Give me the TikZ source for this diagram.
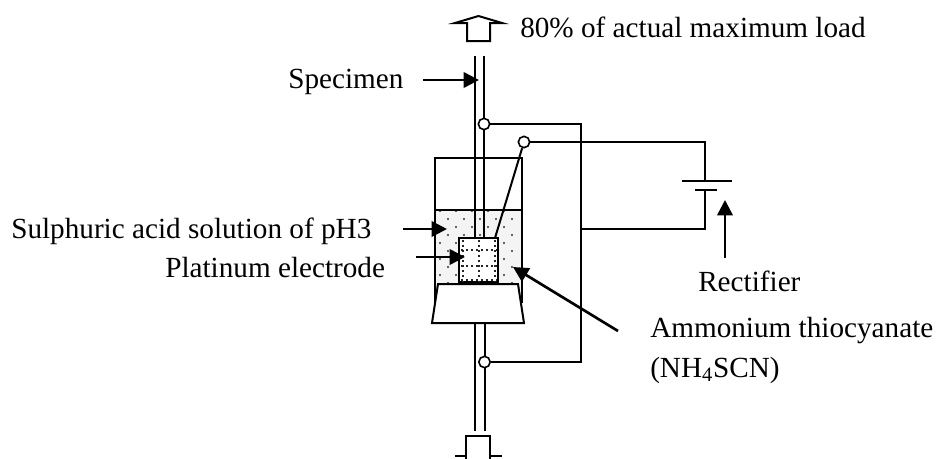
\documentclass[tikz,border=0pt]{standalone}
\usepackage{fontspec}
\setmainfont{Liberation Serif}
\usetikzlibrary{arrows.meta}
\tikzset{
  px/.style={x=0.75pt,y=-0.75pt},
  wire/.style={line width=1.5pt,black},
  pointer/.style={line width=2pt,-{Triangle[length=11.5pt,width=11.5pt]}},
  term/.style={circle,draw=black,fill=white,line width=1.2pt,inner sep=0pt,minimum size=8.5pt},
  lbl/.style={inner sep=0pt,anchor=base west,font=\fontsize{21.9pt}{26pt}\selectfont,text=black},
  pt/.style={inner sep=0pt,minimum size=0pt},
  hollow/.style={line width=1.5pt,draw=black,fill=white,line join=miter}
}
\begin{document}
\begin{tikzpicture}[px]
\useasboundingbox (0,0) rectangle (936,458);
% liquid
\fill[gray!9] (435,210) rectangle (521.5,290);
\foreach \r in {0,...,10}{
  \pgfmathsetmacro{\yy}{211+8*\r}
  \pgfmathsetmacro{\off}{mod(\r,2)==0 ? 440 : 448}
  \foreach \c in {0,...,4}{
    \fill[black!80] ({\off+16*\c},\yy) circle (0.85pt);
  }
}
% vessel
\draw[wire] (435,303) -- (435,158) -- (521.5,158) -- (521.5,303);
\draw[wire] (435,210) -- (521.5,210);
% specimen
\coordinate (sTopL) at (475,56); \coordinate (sTopR) at (484,56);
\coordinate (sElL) at (475,238); \coordinate (sElR) at (484,238);
\coordinate (sBotL) at (475,431); \coordinate (sBotR) at (485,431);
\coordinate (sStopL) at (475,323); \coordinate (sStopR) at (485,323);
\draw[wire] (sTopL) -- (sElL);
\draw[wire] (sTopR) -- (sElR);
\draw[wire] (sStopL) -- (sBotL);
\draw[wire] (sStopR) -- (sBotR);
% electrode
\node[pt,draw=black,line width=1.6pt,fill=white,minimum width=29.25pt,minimum height=33pt] (electrode) at (478.5,260) {};
\foreach \p in {250,266,280}{
  \draw[black!85,line width=1.2pt,dash pattern=on 1.2pt off 2.6pt] (461,\p) -- (497,\p);
}
\foreach \p in {463,479,495}{
  \draw[black!85,line width=1.2pt,dash pattern=on 1.2pt off 2.6pt] (\p,240) -- (\p,281);
}
% stopper
\draw[hollow] (438,284) -- (518,284) -- (524,323) -- (432,323) -- cycle;
% load arrows
\draw[hollow] (467,41) -- (490,41) -- (490,23) -- (502,23) -- (478.5,16) -- (455,23) -- (467,23) -- cycle;
\draw[hollow] (466,470) -- (466,436) -- (490,436) -- (490,470);
\draw[hollow,fill=none] (455,456) -- (466,456) (490,456) -- (502,456);
% terminals
\node[term] (t1) at (484,124) {};
\node[term] (t2) at (524,142) {};
\node[term] (t3) at (484.5,362) {};
% battery
\node[pt] (bl) at (705,181) {};
\node[pt] (bs) at (705,190) {};
\draw[wire] (682,181) -- (732,181);
\draw[wire] (695,190) -- (717,190);
% wires
\coordinate (j1) at (581,229);
\draw[wire] (t1) -- (581,124) -- (581,362) -- (t3);
\draw[wire] (t2) -- (705,142) -- (bl);
\draw[wire] (bs) -- (705,229) -- (j1);
\draw[wire] (t2) -- (495,238);
% labels
\node[lbl] (load) at (520,37) {80\% of actual maximum load};
\node[lbl] (spec) at (288,88) {Specimen};
\node[lbl] (acid) at (11,238) {Sulphuric acid solution of pH3};
\node[lbl] (plat) at (165,277) {Platinum electrode};
\node[lbl] (rect) at (698,291) {Rectifier};
\node[lbl] (amm) at (650,337) {Ammonium thiocyanate};
\node[lbl] (nh) at (650,377) {(NH\textsubscript{4}SCN)};
% pointers
\coordinate (a1) at (423,80); \coordinate (a1e) at (479,80);
\coordinate (a2) at (403,229); \coordinate (a2e) at (447,229);
\coordinate (a3) at (416,257); \coordinate (a3e) at (465,257);
\coordinate (a4) at (618,331); \coordinate (a4e) at (513,267);
\coordinate (a5) at (725,258); \coordinate (a5e) at (725,200);
\foreach \s/\e in {a1/a1e,a2/a2e,a3/a3e,a4/a4e,a5/a5e}{
  \draw[pointer] (\s) -- (\e);
}
\end{tikzpicture}
\end{document}
